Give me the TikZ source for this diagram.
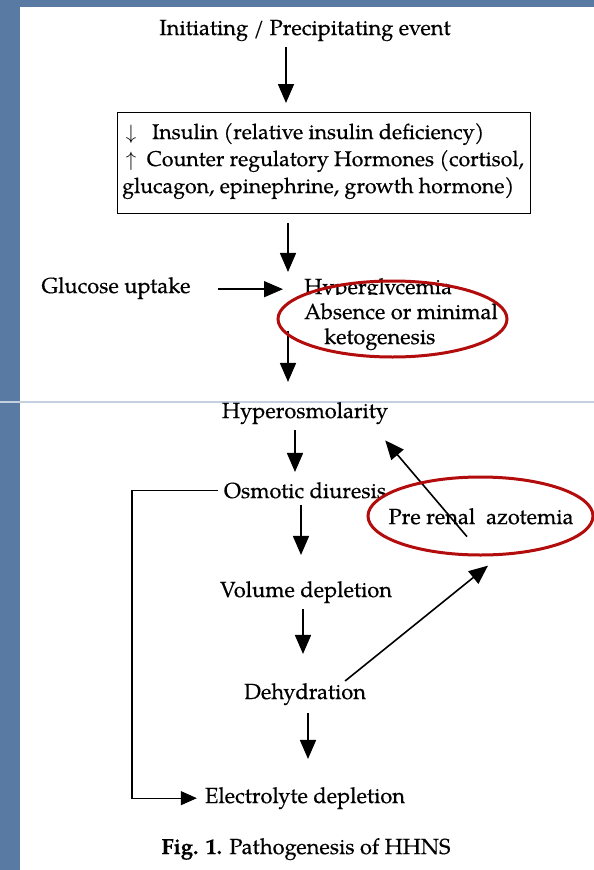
\documentclass[tikz,border=0pt]{standalone}
\usepackage{fontspec}
\setmainfont{TeX Gyre Pagella}[FakeBold=0.4]
\usetikzlibrary{arrows.meta}
\definecolor{slideblue}{RGB}{88,122,163}
\definecolor{rulegrey}{RGB}{196,208,224}
\definecolor{markred}{RGB}{178,12,12}

\begin{document}
\begin{tikzpicture}[x=1pt,y=-1pt,
  txt/.style={inner sep=0pt, font=\fontsize{21.8}{27}\selectfont},
  lbl/.style={txt, anchor=base},
  lblw/.style={txt, anchor=base west},
  flow/.style={-{Triangle[length=19pt,width=16pt]}, line width=1.6pt},
  loopline/.style={-{Triangle[length=16pt,width=14pt]}, line width=1.1pt},
  ring/.style={draw=markred, line width=3pt}]

% slide background and white panel
\useasboundingbox (0,0) rectangle (594,870);
\fill[slideblue] (0,0) rectangle (594,870);
\fill[white] (20,7) rectangle (594,870);
\draw[rulegrey, line width=1.5pt] (0,402) -- (594,402);

% column positions of the vertical arrows
\coordinate (c1) at (286,0);
\coordinate (c2) at (288,0);
\coordinate (c3) at (295,0);
\coordinate (c4) at (301,0);
\coordinate (c5) at (303,0);
\coordinate (c6) at (308,0);
\coordinate (loop) at (132,0);

% nodes
\node[lbl] (init) at (305,35) {Initiating / Precipitating event};
\node[draw, line width=1.2pt, anchor=north west, minimum width=413pt,
      minimum height=101pt, inner sep=0pt] (hormones) at (117,112) {};
\node[anchor=west, align=left, inner sep=0pt,
      font=\fontsize{21.3}{27}\selectfont]
      (hormtext) at ([xshift=5pt, yshift=2pt]hormones.west)
  {\,$\downarrow$\enspace\ Insulin (relative insulin deficiency)\\
   \,$\uparrow$\enspace Counter regulatory Hormones (cortisol,\\
   glucagon, epinephrine, growth hormone)};
\node[lbl] (gluc) at (116,293) {Glucose uptake};
% the lower edge of this line is worn away in the printed figure
\begin{scope}
  \clip (280,250) rectangle (540,294.5);
  \node[lblw] (hyper) at (304,294) {Hyperglycemia};
\end{scope}
\node[lblw] (absence) at (304,319) {Absence or minimal};
\node[lblw] (keto) at (324,344) {ketogenesis};
\node[lbl] (hyperosm) at (305,418) {Hyperosmolarity};
\node[lbl] (osmotic) at (305,498) {Osmotic diuresis};
\node[lbl] (prerenal) at (481,524) {Pre renal\ \ azotemia};
\node[lbl] (volume) at (306,597) {Volume depletion};
\node[lbl] (dehyd) at (305,699) {Dehydration};
\node[lbl] (electro) at (305,803) {Electrolyte depletion};
\node[lbl] (caption) at (306,854) {\textbf{Fig. 1.} Pathogenesis of HHNS};

% arrows
\draw[flow, shorten <=6pt, shorten >=9pt] (init.south -| c1) -- (hormones.north -| c1);
\draw[flow, shorten <=9pt, shorten >=6pt] (hormones.south -| c2) -- (hyper.north -| c2);
\draw[flow, shorten <=27pt, shorten >=21pt] (gluc.east |- hyper.center) -- (hyper.west |- hyper.center);
\draw[flow, shorten <=11pt, shorten >=20pt] (absence.south -| c2) -- (hyperosm.north -| c2);
\draw[flow, shorten <=6pt, shorten >=10pt] (hyperosm.south -| c3) -- (osmotic.north -| c3);
\draw[flow, shorten <=6pt, shorten >=26pt] (osmotic.south -| c4) -- (volume.north -| c4);
\draw[flow, shorten <=6pt, shorten >=29pt] (volume.south -| c5) -- (dehyd.north -| c5);
\draw[flow, shorten <=8pt, shorten >=28pt] (dehyd.south -| c6) -- (electro.north -| c6);
\draw[flow] ([shift={(-21,-2)}]dehyd.north east) -- ([shift={(7,41)}]prerenal.south);
\draw[flow] ([shift={(-14,12)}]prerenal.south) -- ([shift={(-3,16)}]hyperosm.south east);
\draw[loopline] ([xshift=-6pt]osmotic.west) -- (osmotic.west -| loop)
  -- (electro.west -| loop) -- ([xshift=-8pt]electro.west);

% red highlight rings
\draw[ring] (392.5,319) ellipse [x radius=114.5, y radius=38];
\draw[ring] (480.5,516) ellipse [x radius=112.5, y radius=39];
\end{tikzpicture}
\end{document}
